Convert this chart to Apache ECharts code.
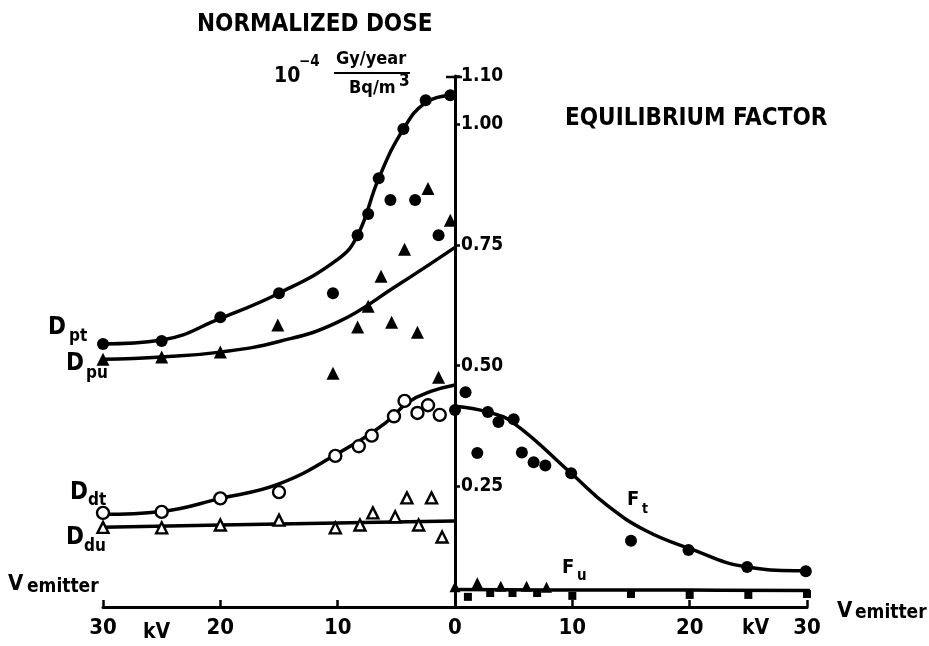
<!DOCTYPE html>
<html>
<head>
<meta charset="utf-8">
<script src="https://cdn.jsdelivr.net/npm/echarts@6/dist/echarts.min.js"></script>
<style>
html, body { margin: 0; padding: 0; background: #fff; }
#container { width: 929px; height: 646px; }
</style>
</head>
<body>
<div id="container"></div>
<script>
// kV values: negative = left half (normalized dose), positive = right half (equilibrium factor)
var yTicks = [0.25, 0.5, 0.75, 1.0, 1.1];

// D_pt : filled circles + fitted curve
var dptCurveKv = [-30, -25, -20, -15, -10, -8.3, -6.5, -4.4, -2.5, -0.4];
var dptCurve   = [0.545, 0.553, 0.598, 0.65, 0.72, 0.77, 0.888, 0.99, 1.045, 1.06];
var dptKv      = [-30, -25, -20, -15, -10.4, -8.3, -7.4, -6.5, -5.5, -4.4, -3.4, -2.5, -1.4, -0.4];
var dpt        = [0.545, 0.551, 0.60, 0.65, 0.65, 0.77, 0.814, 0.888, 0.843, 0.99, 0.843, 1.05, 0.77, 1.06];

// D_pu : filled triangles + fitted curve
var dpuCurveKv = [-30, -25, -20, -15, -10, -5, 0];
var dpuCurve   = [0.513, 0.518, 0.528, 0.55, 0.59, 0.665, 0.745];
var dpuKv      = [-30, -25, -20, -15.1, -10.4, -8.3, -7.4, -6.3, -5.4, -4.3, -3.2, -2.3, -1.4, -0.4];
var dpu        = [0.513, 0.518, 0.528, 0.584, 0.484, 0.58, 0.623, 0.685, 0.59, 0.741, 0.569, 0.867, 0.476, 0.801];

// D_dt : open circles + fitted curve
var ddtCurveKv = [-30, -25, -20, -15, -10, -6, -4, -2, 0];
var ddtCurve   = [0.192, 0.198, 0.225, 0.255, 0.318, 0.38, 0.424, 0.447, 0.46];
var ddtKv      = [-30, -25, -20, -15, -10.2, -8.2, -7.1, -5.2, -4.3, -3.2, -2.3, -1.3];
var ddt        = [0.195, 0.197, 0.225, 0.238, 0.313, 0.333, 0.355, 0.395, 0.427, 0.402, 0.418, 0.398];

// D_du : open triangles + fitted line
var dduCurveKv = [-30, -20, -10, 0];
var dduCurve   = [0.165, 0.17, 0.174, 0.178];
var dduKv      = [-30, -25, -20, -15, -10.2, -8.1, -7.0, -5.1, -4.1, -3.1, -2.0, -1.1];
var ddu        = [0.165, 0.164, 0.17, 0.18, 0.164, 0.17, 0.195, 0.187, 0.226, 0.17, 0.226, 0.145];

// F_t : filled circles + fitted curve
var ftCurveKv = [0, 2.8, 5, 9.9, 13, 16.2, 19.9, 24.9, 29.9, 31.3];
var ftCurve   = [0.416, 0.404, 0.381, 0.277, 0.21, 0.159, 0.122, 0.083, 0.075, 0.075];
var ftKv      = [0, 0.9, 1.9, 2.8, 3.7, 5.0, 5.7, 6.7, 7.7, 9.9, 15.0, 19.9, 24.9, 29.9];
var ft        = [0.408, 0.445, 0.319, 0.404, 0.383, 0.389, 0.32, 0.30, 0.293, 0.277, 0.137, 0.118, 0.083, 0.074];

// F_u : triangles and squares along a flat line
var fuCurveKv = [0, 10, 20, 31.3];
var fuCurve   = [0.036, 0.035, 0.035, 0.034];
var fuTriKv   = [0, 1.9, 3.9, 6.1, 7.8];
var fuTri     = [0.042, 0.05, 0.043, 0.043, 0.041];
var fuSqKv    = [1.1, 3.0, 4.9, 7.0, 10, 15, 20, 25, 30];
var fuSq      = [0.021, 0.029, 0.029, 0.029, 0.023, 0.027, 0.025, 0.025, 0.027];

var FONT = "'DejaVu Sans Condensed', 'DejaVu Sans', sans-serif";

function pairs(xs, ys) {
    return xs.map(function (x, i) { return [x, ys[i]]; });
}
function curve(xs, ys) {
    return {
        type: 'line', data: pairs(xs, ys), smooth: 0.45,
        symbol: 'none', clip: false, silent: true,
        lineStyle: { color: '#000', width: 3.5 }
    };
}
function dots(xs, ys, symbol, size, open) {
    return {
        type: 'scatter', data: pairs(xs, ys), symbol: symbol, symbolSize: size,
        clip: false, silent: true, z: 3,
        itemStyle: open
            ? { color: '#fff', borderColor: '#000', borderWidth: 2.4, opacity: 1 }
            : { color: '#000', opacity: 1 }
    };
}
function txt(x, y, s, size) {
    return {
        type: 'text', x: x, y: y, silent: true,
        style: { text: s, fontSize: size, fontWeight: 'bold', fontFamily: FONT, fill: '#000' }
    };
}

var dom = document.getElementById('container');
var myChart = echarts.init(dom, null, { renderer: 'canvas' });

var option = {
    animation: false,
    backgroundColor: '#fff',
    grid: { left: 103, right: 122, top: 76, bottom: 39, containLabel: false },
    xAxis: {
        type: 'value', min: -30, max: 30, interval: 10,
        axisLine: { lineStyle: { color: '#000', width: 3 } },
        axisTick: { inside: true, length: 7, lineStyle: { color: '#000', width: 2.5 } },
        axisLabel: {
            margin: 10, color: '#000', fontSize: 22, fontWeight: 'bold', fontFamily: FONT,
            formatter: function (v) { return String(Math.abs(v)); }
        },
        splitLine: { show: false }
    },
    yAxis: {
        type: 'value', min: 0, max: 1.1,
        position: 'right', offset: -352,
        axisLine: { show: true, onZero: false, lineStyle: { color: '#000', width: 3 } },
        axisTick: { show: true, length: 5, customValues: yTicks, lineStyle: { color: '#000', width: 2.5 } },
        axisLabel: {
            margin: 6, customValues: yTicks, color: '#000',
            fontSize: 19, fontWeight: 'bold', fontFamily: FONT,
            formatter: function (v) { return v.toFixed(2); }
        },
        splitLine: { show: false }
    },
    series: [
        curve(dptCurveKv, dptCurve), dots(dptKv, dpt, 'circle', 12, false),
        curve(dpuCurveKv, dpuCurve), dots(dpuKv, dpu, 'triangle', 13, false),
        curve(ddtCurveKv, ddtCurve), dots(ddtKv, ddt, 'circle', 12, true),
        curve(dduCurveKv, dduCurve), dots(dduKv, ddu, 'triangle', 11, true),
        curve(ftCurveKv, ftCurve), dots(ftKv, ft, 'circle', 12, false),
        curve(fuCurveKv, fuCurve), dots(fuTriKv, fuTri, 'triangle', 11, false),
        dots(fuSqKv, fuSq, 'rect', 8, false)
    ],
    graphic: [
        txt(197, 13, 'NORMALIZED DOSE', 24),
        txt(565, 107, 'EQUILIBRIUM FACTOR', 24),
        txt(274, 66, '10', 21),
        txt(299, 55, '\u22124', 15),
        txt(336, 50, 'Gy/year', 18),
        { type: 'line', silent: true, shape: { x1: 334, y1: 73, x2: 410, y2: 73 }, style: { stroke: '#000', lineWidth: 2 } },
        txt(349, 79, 'Bq/m', 18),
        txt(399, 73, '3', 17),
        { type: 'line', silent: true, shape: { x1: 446, y1: 77, x2: 462, y2: 77 }, style: { stroke: '#000', lineWidth: 2.5 } },
        txt(48, 316, 'D', 24), txt(69, 328, 'pt', 17),
        txt(66, 352, 'D', 24), txt(86, 365, 'pu', 17),
        txt(70, 481, 'D', 24), txt(88, 492, 'dt', 17),
        txt(66, 526, 'D', 24), txt(84, 538, 'du', 17),
        txt(627, 490, 'F', 20), txt(642, 502, 't', 14),
        txt(562, 558, 'F', 20), txt(577, 569, 'u', 15),
        txt(8, 573, 'V', 22), txt(27, 578, 'emitter', 19),
        txt(837, 600, 'V', 22), txt(855, 604, 'emitter', 19),
        txt(143, 622, 'kV', 21),
        txt(742, 618, 'kV', 21)
    ]
};

myChart.setOption(option);
</script>
</body>
</html>
